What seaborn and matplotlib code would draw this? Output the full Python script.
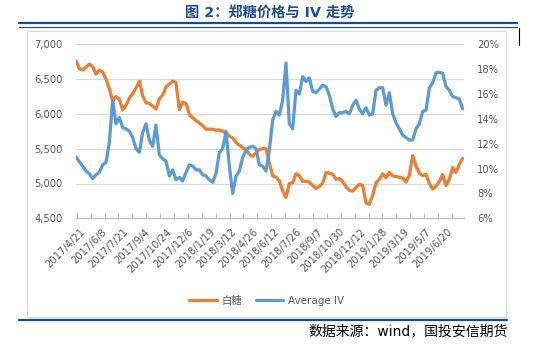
import numpy as np
import pandas as pd
import matplotlib
matplotlib.use("Agg")
import matplotlib.pyplot as plt
import seaborn as sns
from matplotlib.lines import Line2D
from matplotlib.patches import Rectangle
from matplotlib.ticker import FuncFormatter

# ---------------- data ----------------
date_labels = ['2017/4/21', '2017/6/8', '2017/7/21', '2017/9/4', '2017/10/24', '2017/12/6',
               '2018/1/19', '2018/3/12', '2018/4/26', '2018/6/12', '2018/7/26', '2018/9/7',
               '2018/10/30', '2018/12/12', '2019/1/28', '2019/3/19', '2019/5/7', '2019/6/20']

sugar = [6760, 6650, 6630, 6670, 6715, 6680, 6570, 6630, 6600, 6500,
         6360, 6180, 6250, 6210, 6060, 6120, 6230, 6290, 6370, 6470,
         6260, 6160, 6150, 6110, 6070, 6220, 6270, 6390, 6430, 6470,
         6450, 6060, 6170, 6150, 5990, 5945, 5900, 5870, 5830, 5780,
         5780, 5780, 5765, 5770, 5750, 5730, 5680, 5655, 5590, 5550,
         5515, 5490, 5420, 5390, 5440, 5490, 5500, 5500, 5300, 5110,
         5090, 5040, 4890, 4800, 5000, 5010, 5140, 5110, 5030, 5030,
         5020, 4970, 4925, 4960, 5005, 5155, 5150, 5135, 5060, 5070,
         5030, 4950, 4900, 4890, 4940, 4990, 4970, 4720, 4700, 4830,
         5010, 5060, 5140, 5080, 5160, 5110, 5100, 5090, 5080, 5020,
         5120, 5400, 5250, 5150, 5110, 5130, 5000, 4920, 4960, 5030,
         5130, 4970, 5060, 5230, 5160, 5280, 5360]

avg_iv = [10.95, 10.55, 10.2, 9.8, 9.6, 9.2, 9.5, 9.7, 10.3, 10.5,
          12.1, 15.5, 13.6, 14.1, 13.3, 13.2, 13.0, 12.5, 11.6, 11.3,
          12.9, 13.6, 12.3, 11.8, 13.5, 11.1, 10.8, 10.6, 9.4, 9.9,
          9.1, 9.3, 9.0, 9.7, 10.3, 10.2, 9.9, 9.9, 9.5, 9.4,
          9.1, 8.9, 9.6, 11.3, 11.6, 13.0, 10.2, 8.0, 9.4, 9.8,
          10.9, 11.5, 11.7, 11.8, 11.6, 10.3, 10.2, 9.8, 11.5, 13.9,
          14.6, 14.3, 15.5, 18.5, 13.6, 13.2, 16.3, 16.0, 17.4, 17.0,
          17.3, 16.2, 16.1, 16.4, 16.7, 16.6, 15.9, 14.8, 14.2, 14.5,
          14.5, 14.6, 14.4, 15.1, 15.5, 14.8, 14.4, 14.9, 14.3, 14.4,
          16.3, 16.5, 16.5, 15.1, 16.1, 14.4, 13.7, 13.2, 12.7, 12.5,
          12.3, 12.3, 13.2, 13.6, 14.6, 14.7, 16.5, 16.9, 17.7, 17.75,
          17.67, 16.6, 16.3, 15.8, 15.7, 15.6, 14.8]

left_ticks = [4500, 5000, 5500, 6000, 6500, 7000]
right_ticks = [6, 8, 10, 12, 14, 16, 18, 20]

# ---------------- style ----------------
sns.set_theme(style="white")
plt.rcParams['font.family'] = ['DejaVu Sans', 'Noto Sans CJK SC']

W, H = 538, 344
fig = plt.figure(figsize=(W / 100, H / 100), dpi=100)


def fx(x):
    return x / W


def fy(y):
    return 1 - y / H


ORANGE = '#ED7D31'
BLUE = '#5B9BD5'
TXT = '#595959'
NAVY = '#1a4a8a'

# chart frame
fig.add_artist(Rectangle((fx(26.5), fy(316.5)), fx(506) - fx(26.5), fy(31) - fy(316.5),
                         transform=fig.transFigure, fill=False, edgecolor='#D9D9D9', lw=0.8))

ax = fig.add_axes([fx(76), fy(218.3), fx(464) - fx(76), fy(44.3) - fy(218.3)])
df = pd.DataFrame({'i': np.arange(len(sugar)), 'sugar': sugar, 'iv': avg_iv})

sns.lineplot(data=df, x='i', y='sugar', ax=ax, color=ORANGE, lw=2.3, legend=False)
ax.set_ylim(4500, 7000)
ax.set_yticks(left_ticks)
ax.yaxis.set_major_formatter(FuncFormatter(lambda v, p: f'{v:,.0f}'))
ax.set_xlim(0, len(sugar) - 1 + 0.4)
ax.set_xlabel('')
ax.set_ylabel('')
ax.grid(False)
ax.yaxis.grid(True, color='#D9D9D9', lw=0.8)
for s in ['top', 'left', 'right']:
    ax.spines[s].set_visible(False)
ax.spines['bottom'].set_color('#BFBFBF')
ax.spines['bottom'].set_linewidth(1.0)

lab_pos = [1.2 + 6.48 * k for k in range(len(date_labels))]
ax.set_xticks(lab_pos)
ax.set_xticklabels(date_labels, rotation=45, ha='right', va='top', rotation_mode='anchor')
ax.set_xticks([0.21 + 4.17 * k for k in range(28)], minor=True)
ax.tick_params(axis='x', which='major', length=0, pad=6, labelsize=7.2, labelcolor=TXT)
ax.tick_params(axis='x', which='minor', length=3.5, direction='in', color='#BFBFBF', width=0.8,
               bottom=True)
ax.tick_params(axis='y', length=0, pad=9.5, labelsize=7.2, labelcolor=TXT)

ax2 = ax.twinx()
sns.lineplot(data=df, x='i', y='iv', ax=ax2, color=BLUE, lw=2.3, legend=False)
ax2.set_ylim(6, 20)
ax2.set_yticks(right_ticks)
ax2.set_yticklabels([f'{v}%' for v in right_ticks])
ax2.set_ylabel('')
ax2.grid(False)
for s in ['top', 'left', 'right', 'bottom']:
    ax2.spines[s].set_visible(False)
ax2.tick_params(axis='y', length=0, pad=9.5, labelsize=7.2, labelcolor=TXT)

# legend
handles = [Line2D([], [], color=ORANGE, lw=2.3), Line2D([], [], color=BLUE, lw=2.3)]
leg = fig.legend(handles, ['白糖', 'Average IV'], loc='center', bbox_to_anchor=(fx(267), fy(301)),
                 ncol=2, frameon=False, fontsize=7.5, handlelength=2.6, handletextpad=0.5,
                 columnspacing=1.3)
for t in leg.get_texts():
    t.set_color(TXT)

# title and rules
fig.text(fx(270), fy(13), '图 2：郑糖价格与 IV 走势', ha='center', va='center',
         fontsize=10.3, fontweight='bold', color='#1F4E96')
fig.add_artist(Line2D([fx(19), fx(517)], [fy(22.5), fy(22.5)], color=NAVY, lw=1.6))
fig.add_artist(Line2D([fx(19), fx(517)], [fy(26.8), fy(26.8)], color=NAVY, lw=0.8))
fig.add_artist(Line2D([fx(19), fx(507)], [fy(320.3), fy(320.3)], color='#0F4C96', lw=1.6))
fig.add_artist(Line2D([fx(518.5), fx(518.5)], [fy(28), fy(45)], color='black', lw=0.8))

fig.text(fx(508), fy(331), '数据来源：wind，国投安信期货', ha='right', va='center',
         fontsize=10, color='black')

fig.savefig('out.png', dpi=100)
